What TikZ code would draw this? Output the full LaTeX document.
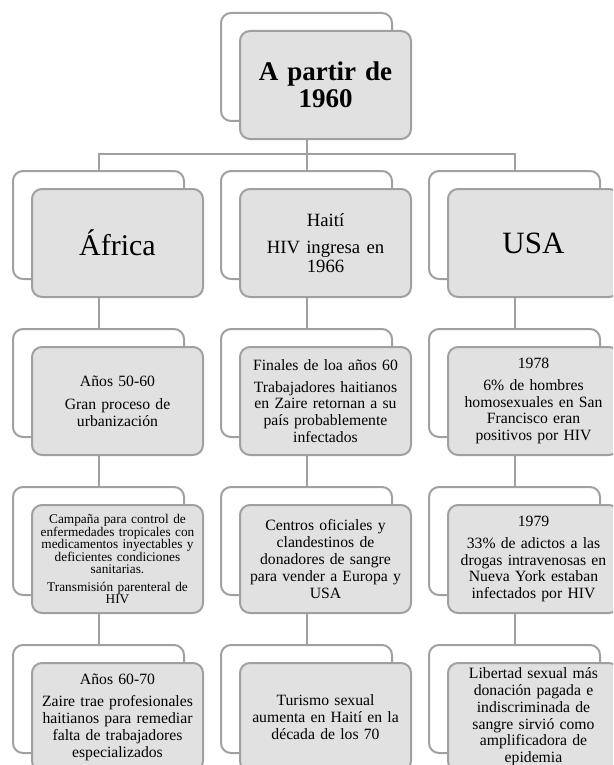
\documentclass[tikz,border=0pt]{standalone}
\usepackage{fontspec}
\setmainfont{Liberation Serif}
\usetikzlibrary{positioning}
\definecolor{linegray}{RGB}{160,160,160}
\definecolor{boxgray}{RGB}{225,225,225}

\begin{document}
\begin{tikzpicture}[
    x=1pt, y=1pt,
    node distance=50pt and 37pt,
    back/.style={draw=linegray, line width=2pt, rounded corners=10pt, fill=white, minimum width=171pt, minimum height=108pt, inner sep=0pt, outer sep=0pt},
    front/.style={back, fill=boxgray, align=center, text width=166pt, font=\fontsize{15.7}{16.8}\selectfont},
    over/.style={front, at={([shift={(19pt,-18pt)}]#1.center)}},
    link/.style={draw=linegray, line width=2pt}
  ]
  \useasboundingbox (0,0) rectangle (613,-765);
  \clip (0,0) rectangle (613,-765);

  % frames behind
  \node[back] (b-top) at (306.5,-67) {};
  \node[back, below=of b-top] (b-hai-1) {};
  \node[back, left=of b-hai-1] (b-afr-1) {};
  \node[back, right=of b-hai-1] (b-usa-1) {};
  \foreach \c in {afr,hai,usa}
    \foreach \r [count=\n from 2] in {1,2,3}
      \node[back, below=of b-\c-\r] (b-\c-\n) {};

  % boxes in front
  \node[over=b-top, font=\fontsize{27}{27}\selectfont\bfseries] (f-top) {A partir de\\1960};

  \node[over=b-afr-1, font=\fontsize{30}{30}\selectfont] (f-afr-1) {África};
  \node[over=b-hai-1, font=\fontsize{18.7}{18.5}\selectfont] (f-hai-1) {Haití\\[9pt]HIV ingresa en\\1966};
  \node[over=b-usa-1, font=\fontsize{31}{31}\selectfont] (f-usa-1) {USA};

  \node[over=b-afr-2] (f-afr-2) {Años 50-60\\[6pt]Gran proceso de\\urbanización};
  \node[over=b-hai-2] (f-hai-2) {Finales de loa años 60\\[5pt]Trabajadores haitianos\\en Zaire retornan a su\\país probablemente\\infectados};
  \node[over=b-usa-2] (f-usa-2) {1978\\[5pt]6\% de hombres\\homosexuales en San\\Francisco eran\\positivos por HIV};

  \node[over=b-afr-3, font=\fontsize{13.3}{12.5}\selectfont] (f-afr-3) {Campaña para control de\\enfermedades tropicales con\\medicamentos inyectables y\\deficientes condiciones\\sanitarias.\\[5pt]Transmisión parenteral de\\HIV};
  \node[over=b-hai-3] (f-hai-3) {Centros oficiales y\\clandestinos de\\donadores de sangre\\para vender a Europa y\\USA};
  \node[over=b-usa-3] (f-usa-3) {1979\\[5pt]33\% de adictos a las\\drogas intravenosas en\\Nueva York estaban\\infectados por HIV};

  \node[over=b-afr-4] (f-afr-4) {Años 60-70\\[6pt]Zaire trae profesionales\\haitianos para remediar\\falta de trabajadores\\especializados};
  \node[over=b-hai-4] (f-hai-4) {Turismo sexual\\aumenta en Haití en la\\década de los 70};
  \node[over=b-usa-4] (f-usa-4) {Libertad sexual más\\donación pagada e\\indiscriminada de\\sangre sirvió como\\amplificadora de\\epidemia};

  % connectors
  \coordinate (split) at ([yshift=17pt]b-hai-1.north);
  \draw[link] (f-top.south -| b-top.center) -- (split);
  \draw[link] (b-afr-1.north) |- (split) -| (b-usa-1.north);
  \draw[link] (split) -- (b-hai-1.north);
  \foreach \c in {afr,hai,usa}
    \foreach \r [count=\n from 2] in {1,2,3}
      \draw[link] (f-\c-\r.south -| b-\c-\r.center) -- (b-\c-\n.north);
\end{tikzpicture}
\end{document}
